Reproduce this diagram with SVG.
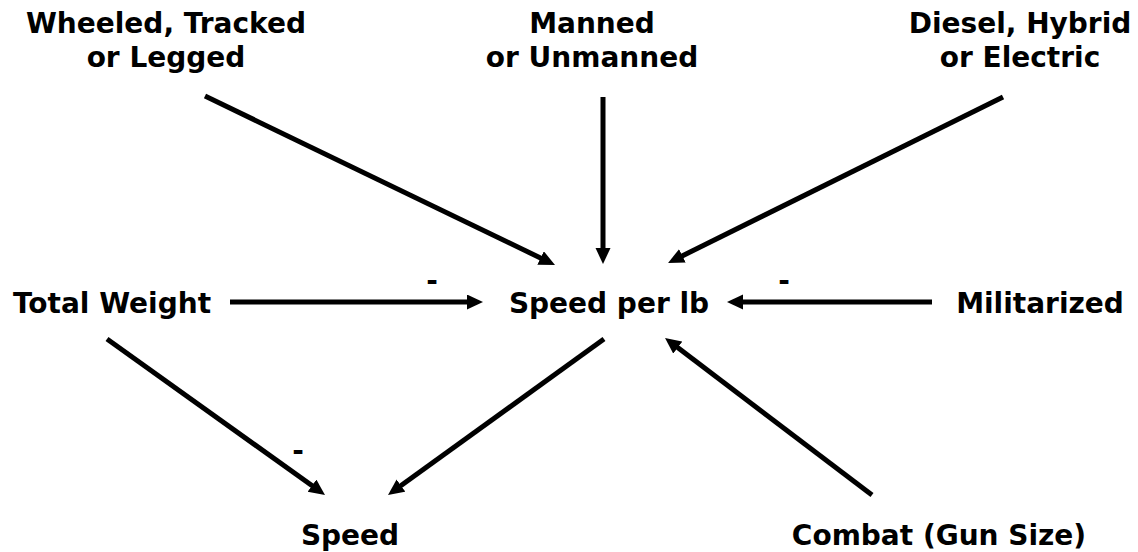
<svg xmlns="http://www.w3.org/2000/svg" width="1138" height="552" viewBox="0 0 1138 552">
<style>
.t{font-family:"DejaVu Sans",Verdana,sans-serif;font-weight:bold;font-size:28px;fill:#000;text-anchor:middle}
.c line{stroke:#000;stroke-width:5;marker-end:url(#ah)}
</style>
<defs>
<marker id="ah" markerUnits="userSpaceOnUse" markerWidth="18" markerHeight="16" refX="8" refY="7.5" orient="auto">
<path d="M0,0 L16,7.5 L0,15 Z" fill="#000"/>
</marker>
</defs>
<rect width="1138" height="552" fill="#fff"/>
<g id="n-wheeled"><text class="t" x="166" y="33">Wheeled, Tracked</text><text class="t" x="166" y="67">or Legged</text></g>
<g id="n-manned"><text class="t" x="592" y="33">Manned</text><text class="t" x="592" y="67">or Unmanned</text></g>
<g id="n-diesel"><text class="t" x="1020" y="33">Diesel, Hybrid</text><text class="t" x="1020" y="67">or Electric</text></g>
<g id="n-weight"><text class="t" x="112" y="313">Total Weight</text></g>
<g id="n-speedlb"><text class="t" x="609" y="313">Speed per lb</text></g>
<g id="n-mil"><text class="t" x="1040" y="313">Militarized</text></g>
<g id="n-speed"><text class="t" x="350" y="545">Speed</text></g>
<g id="n-combat"><text class="t" x="939" y="545">Combat (Gun Size)</text></g>
<g id="connectors" class="c">
<line x1="205" y1="96" x2="547.8" y2="261.5"/>
<line x1="603" y1="97" x2="603" y2="256"/>
<line x1="1003" y1="97" x2="675.2" y2="259.4"/>
<line x1="230" y1="302" x2="475" y2="302"/>
<line x1="932" y1="302" x2="735" y2="302"/>
<line x1="604" y1="339" x2="394.5" y2="490.3"/>
<line x1="872" y1="495" x2="671.4" y2="342.8"/>
<line x1="107" y1="339" x2="318.5" y2="490.3"/>
<text class="t" x="432" y="290">-</text>
<text class="t" x="784" y="290">-</text>
<text class="t" x="298" y="460">-</text>
</g>
</svg>
